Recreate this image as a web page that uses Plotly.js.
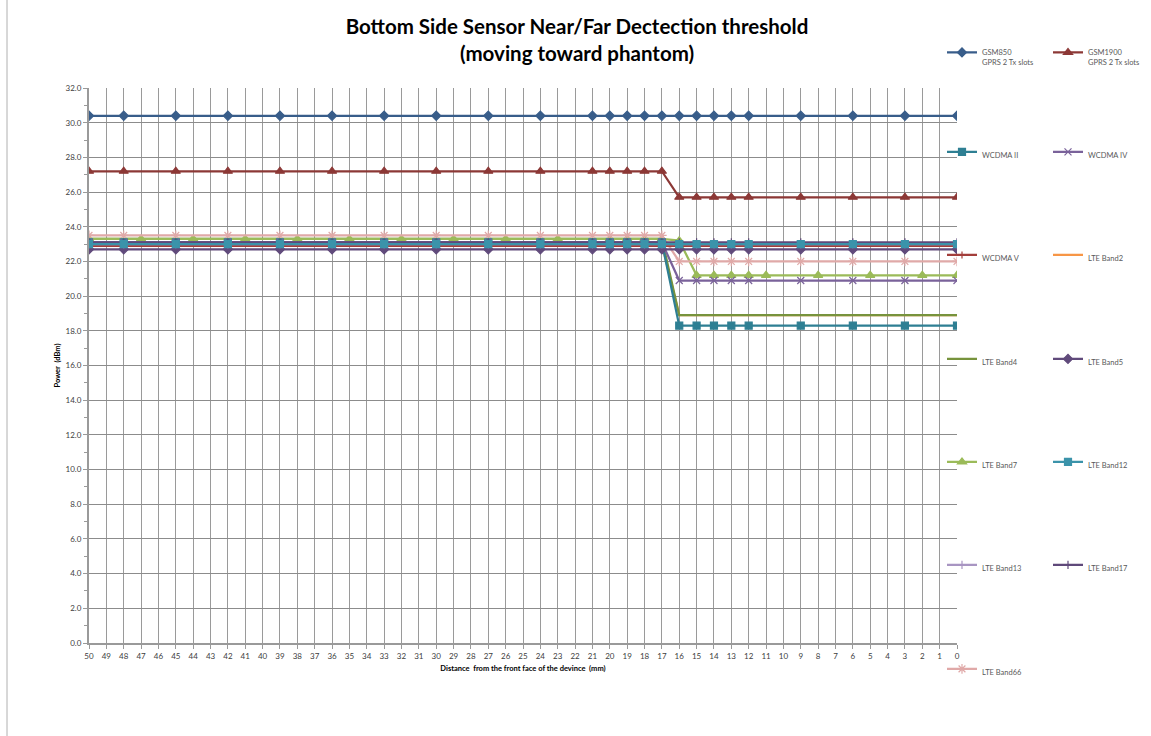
<!DOCTYPE html>
<html>
<head>
<meta charset="utf-8">
<script src="https://cdn.plot.ly/plotly-3.0.1.min.js"></script>
<style>
html,body{margin:0;padding:0;background:#fff;}
#chart{width:1151px;height:736px;}
</style>
</head>
<body>
<div id="chart"></div>
<script>
// Distance (mm) at which measurements were taken
const distance = [50,48,45,42,39,36,33,30,27,24,21,20,19,18,17,16,15,14,13,12,9,6,3,0];
const distanceBand7 = [50,47,44,41,38,35,32,29,26,23,20,19,18,17,16,15,14,13,12,11,8,5,2,0];

const gsm850   = [30.4,30.4,30.4,30.4,30.4,30.4,30.4,30.4,30.4,30.4,30.4,30.4,30.4,30.4,30.4,30.4,30.4,30.4,30.4,30.4,30.4,30.4,30.4,30.4];
const gsm1900  = [27.2,27.2,27.2,27.2,27.2,27.2,27.2,27.2,27.2,27.2,27.2,27.2,27.2,27.2,27.2,25.7,25.7,25.7,25.7,25.7,25.7,25.7,25.7,25.7];
const wcdma2   = [23.1,23.1,23.1,23.1,23.1,23.1,23.1,23.1,23.1,23.1,23.1,23.1,23.1,23.1,23.1,18.3,18.3,18.3,18.3,18.3,18.3,18.3,18.3,18.3];
const wcdma4   = [23.1,23.1,23.1,23.1,23.1,23.1,23.1,23.1,23.1,23.1,23.1,23.1,23.1,23.1,23.1,20.9,20.9,20.9,20.9,20.9,20.9,20.9,20.9,20.9];
const wcdma5   = [22.9,22.9,22.9,22.9,22.9,22.9,22.9,22.9,22.9,22.9,22.9,22.9,22.9,22.9,22.9,22.9,22.9,22.9,22.9,22.9,22.9,22.9,22.9,22.9];
const lteB2    = [23.0,23.0,23.0,23.0,23.0,23.0,23.0,23.0,23.0,23.0,23.0,23.0,23.0,23.0,23.0,18.9,18.9,18.9,18.9,18.9,18.9,18.9,18.9,18.9];
const lteB4    = [23.3,23.3,23.3,23.3,23.3,23.3,23.3,23.3,23.3,23.3,23.3,23.3,23.3,23.3,23.3,18.9,18.9,18.9,18.9,18.9,18.9,18.9,18.9,18.9];
const lteB5    = [22.7,22.7,22.7,22.7,22.7,22.7,22.7,22.7,22.7,22.7,22.7,22.7,22.7,22.7,22.7,22.7,22.7,22.7,22.7,22.7,22.7,22.7,22.7,22.7];
const lteB7    = [23.3,23.3,23.3,23.3,23.3,23.3,23.3,23.3,23.3,23.3,23.3,23.3,23.3,23.3,23.2,21.2,21.2,21.2,21.2,21.2,21.2,21.2,21.2,21.2];
const lteB12   = [23.0,23.0,23.0,23.0,23.0,23.0,23.0,23.0,23.0,23.0,23.0,23.0,23.0,23.0,23.0,23.0,23.0,23.0,23.0,23.0,23.0,23.0,23.0,23.0];
const lteB13   = [23.0,23.0,23.0,23.0,23.0,23.0,23.0,23.0,23.0,23.0,23.0,23.0,23.0,23.0,23.0,23.0,23.0,23.0,23.0,23.0,23.0,23.0,23.0,23.0];
const lteB17   = [23.1,23.1,23.1,23.1,23.1,23.1,23.1,23.1,23.1,23.1,23.1,23.1,23.1,23.1,23.1,23.1,23.1,23.1,23.1,23.1,23.1,23.1,23.1,23.1];
const lteB66   = [23.5,23.5,23.5,23.5,23.5,23.5,23.5,23.5,23.5,23.5,23.5,23.5,23.5,23.5,23.5,22.0,22.0,22.0,22.0,22.0,22.0,22.0,22.0,22.0];

const seriesNames = ["GSM850<br>GPRS 2 Tx slots","GSM1900<br>GPRS 2 Tx slots","WCDMA II","WCDMA IV","WCDMA V","LTE Band2","LTE Band4","LTE Band5","LTE Band7","LTE Band12","LTE Band13","LTE Band17","LTE Band66"];
const xTickVals = [50,49,48,47,46,45,44,43,42,41,40,39,38,37,36,35,34,33,32,31,30,29,28,27,26,25,24,23,22,21,20,19,18,17,16,15,14,13,12,11,10,9,8,7,6,5,4,3,2,1,0];

// plot area in px
const L = 89, R = 957, T = 88, B = 643;
const W = 1151, H = 736;
const px2x = p => (p - L) / (R - L);
const py2y = p => (B - p) / (B - T);

const styles = [
  {c:'#385D8A', sym:'diamond', sz:7, col:0, row:52},
  {c:'#8C3836', sym:'triangle-up', sz:8, col:1, row:52},
  {c:'#2E7F93', sym:'square', sz:7, col:0, row:155},
  {c:'#7A629A', sym:'x-thin-open', sz:7, col:1, row:155},
  {c:'#A33E3B', sym:'line-ns-open', sz:5, col:0, row:258},
  {c:'#F79646', sym:'circle', sz:0, col:1, row:258},
  {c:'#77933C', sym:'circle', sz:0, col:0, row:362},
  {c:'#604A7B', sym:'diamond', sz:7, col:1, row:362},
  {c:'#9BBB59', sym:'triangle-up', sz:8, col:0, row:465},
  {c:'#3B93AA', sym:'square', sz:7, col:1, row:465},
  {c:'#A895C2', sym:'line-ns-open', sz:6, col:0, row:568},
  {c:'#5F497A', sym:'line-ns-open', sz:6, col:1, row:568},
  {c:'#E0A9A8', sym:'asterisk-open', sz:8, col:0, row:672}
];
const ys = [gsm850,gsm1900,wcdma2,wcdma4,wcdma5,lteB2,lteB4,lteB5,lteB7,lteB12,lteB13,lteB17,lteB66];

// drawing order (later on top)
const order = [5,6,8,12,2,3,4,7,10,11,9,1,0];
const traces = order.map(i => {
  const s = styles[i];
  return {
    type:'scatter', mode: s.sz ? 'lines+markers' : 'lines',
    name: seriesNames[i],
    x: i === 8 ? distanceBand7 : distance,
    y: ys[i],
    line:{color:s.c, width:2.25},
    marker:{symbol:s.sym, size:s.sz, color:s.c, line:{color:s.c, width:1.2}},
    legend: i === 0 ? 'legend' : 'legend' + (i+1),
    hoverinfo:'skip'
  };
});

const layout = {
  width: W, height: H,
  paper_bgcolor:'#ffffff', plot_bgcolor:'#ffffff',
  margin:{l:L, r:W-R, t:T, b:H-B, pad:0, autoexpand:false},
  font:{family:'Lato, "Open Sans", sans-serif', color:'#404040'},
  title:{text:'<b>Bottom Side Sensor Near/Far Dectection threshold<br>(moving toward phantom)</b>',
         font:{size:20.5, color:'#000000', family:'Lato, sans-serif'}, x:(577)/W, xanchor:'center',
         y:1-34/H, yanchor:'top', yref:'container'},
  xaxis:{
    range:[50,0], tickmode:'array', tickvals:xTickVals, ticktext:xTickVals.map(String),
    showgrid:true, gridcolor:'#9a9a9a', gridwidth:1,
    showline:true, linecolor:'#9a9a9a', linewidth:2,
    ticks:'outside', ticklen:4, tickcolor:'#9a9a9a',
    tickfont:{size:8, color:'#404040'}, zeroline:false, tickangle:0,
    title:{text:'<b>Distance  from the front face of the devince  (mm)</b>', font:{size:7.5, color:'#000'}, standoff:6}
  },
  yaxis:{
    range:[0,32], dtick:2, tick0:0, tickformat:'.1f',
    showgrid:true, gridcolor:'#8c8c8c', gridwidth:1,
    showline:true, linecolor:'#9a9a9a', linewidth:2,
    ticks:'outside', ticklen:4, tickcolor:'#9a9a9a',
    minor:{dtick:1, ticks:'outside', ticklen:3, tickcolor:'#9a9a9a', showgrid:false},
    tickfont:{size:8, color:'#404040'}, zeroline:false,
    title:{text:'<b>Power  (dBm)</b>', font:{size:7.5, color:'#000'}, standoff:4}
  },
  shapes:[
    {type:'line', xref:'paper', yref:'paper', x0:px2x(7), x1:px2x(7), y0:py2y(0), y1:py2y(736), line:{color:'#b0b0b0', width:1}}
  ],
  showlegend:true
};

styles.forEach((s,i) => {
  const key = i === 0 ? 'legend' : 'legend' + (i+1);
  const left = s.col === 0 ? 942 : 1048;
  const twoLine = i < 2;
  layout[key] = {
    x: px2x(left), xanchor:'left',
    y: twoLine ? py2y(s.row - 11) : py2y(s.row), yanchor: twoLine ? 'top' : 'middle',
    bgcolor:'rgba(0,0,0,0)', borderwidth:0,
    font:{size:7.5, color:'#595959'}, valign:'top', itemwidth:30
  };
});

Plotly.newPlot('chart', traces, layout, {displayModeBar:false, staticPlot:true});
</script>
</body>
</html>
